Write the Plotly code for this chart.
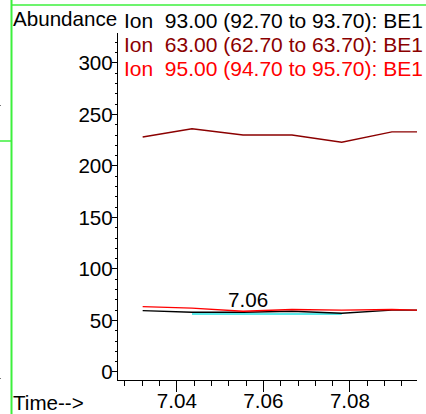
import plotly.graph_objects as go

# Retention times (min) of the scans
time_min = [7.0321, 7.0435, 7.0553, 7.0666, 7.0781, 7.0897, 7.0955]

# Extracted-ion abundances
ion_93 = [59.5, 58, 58, 59, 57, 60, 60]
ion_63 = [228, 236, 230, 230, 223, 233, 233]
ion_95 = [63.4, 62, 59, 60.7, 60, 60.7, 60]

# Integration baseline of the labelled peak
baseline_t = [7.0435, 7.0553, 7.0666, 7.0781]
baseline_y = [56.3, 56.3, 56.3, 56.3]

series_names = [
    "Ion  93.00 (92.70 to 93.70): BE1",
    "Ion  63.00 (62.70 to 63.70): BE1",
    "Ion  95.00 (94.70 to 95.70): BE1",
]
series_colors = ["#000000", "#8b0000", "#ff0000"]
series_values = [ion_93, ion_63, ion_95]

peak_rt_label = "7.06"
peak_label_t = 7.0565
peak_label_y = 70

x_range = [7.0264, 7.0955]
y_range = [-7.8, 329]

W, H = 426, 414
ML, MR, MT, MB = 118, 9, 33, 34
FONT = "Liberation Sans, Arial, sans-serif"
FS = 20.6
FS_HEAD = 21

fig = go.Figure()

fig.add_trace(go.Scatter(x=baseline_t, y=baseline_y, mode="lines",
                         line=dict(color="#22e0e0", width=1.6),
                         showlegend=False, hoverinfo="skip"))

# draw order: dark red first, then black and red on top
for idx in [1, 0, 2]:
    fig.add_trace(go.Scatter(x=time_min, y=series_values[idx], mode="lines",
                             name=series_names[idx],
                             line=dict(color=series_colors[idx], width=1.4),
                             showlegend=False))

pw = W - ML - MR
ph = H - MT - MB


def px_x(p):
    return (p - ML) / pw


def px_y(p):
    return (H - MB - p) / ph


annotations = []
# header lines naming each extracted ion
header_y = [20, 44, 68]
for name, color, yy in zip(series_names, series_colors, header_y):
    annotations.append(dict(xref="paper", yref="paper", x=px_x(122), y=px_y(yy),
                            xanchor="left", yanchor="middle", showarrow=False,
                            text=name, font=dict(family=FONT, size=FS_HEAD, color=color)))

annotations.append(dict(xref="paper", yref="paper", x=px_x(11), y=px_y(19),
                        xanchor="left", yanchor="middle", showarrow=False,
                        text="Abundance", font=dict(family=FONT, size=FS, color="black")))
annotations.append(dict(xref="paper", yref="paper", x=px_x(11), y=px_y(402),
                        xanchor="left", yanchor="middle", showarrow=False,
                        text="Time-->", font=dict(family=FONT, size=FS, color="black")))
annotations.append(dict(x=peak_label_t, y=peak_label_y, xanchor="center", yanchor="middle",
                        showarrow=False, text=peak_rt_label,
                        font=dict(family=FONT, size=FS, color="black")))

green = "#3cf03c"
shapes = [
    dict(type="line", xref="paper", yref="paper", x0=px_x(11.5), x1=px_x(11.5),
         y0=px_y(0), y1=px_y(414), line=dict(color=green, width=2)),
    dict(type="line", xref="paper", yref="paper", x0=px_x(11), x1=px_x(426),
         y0=px_y(5), y1=px_y(5), line=dict(color=green, width=1.5)),
    dict(type="line", xref="paper", yref="paper", x0=px_x(0), x1=px_x(11),
         y0=px_y(141), y1=px_y(141), line=dict(color=green, width=1.5)),
    dict(type="rect", xref="paper", yref="paper", x0=px_x(0), x1=px_x(1),
         y0=px_y(105), y1=px_y(106), line=dict(width=0), fillcolor="#777"),
    dict(type="rect", xref="paper", yref="paper", x0=px_x(0), x1=px_x(1),
         y0=px_y(378), y1=px_y(379), line=dict(width=0), fillcolor="#777"),
]

fig.update_layout(
    width=W, height=H,
    margin=dict(l=ML, r=MR, t=MT, b=MB, pad=0, autoexpand=False),
    paper_bgcolor="white", plot_bgcolor="white",
    font=dict(family=FONT, size=FS, color="black"),
    annotations=annotations, shapes=shapes,
    xaxis=dict(range=x_range, tick0=7.0, dtick=0.02, tickformat=".2f",
               automargin=False,
               showgrid=False, zeroline=False, showline=True, linecolor="black",
               linewidth=1.2, ticks="outside", ticklen=11, tickwidth=1.2,
               tickcolor="black", tickfont=dict(family=FONT, size=FS),
               ticklabelstandoff=-9,
               minor=dict(dtick=0.004, ticks="outside", ticklen=5, tickwidth=1,
                          tickcolor="black", showgrid=False)),
    yaxis=dict(range=y_range, tick0=0, dtick=50, showgrid=False, zeroline=False,
               automargin=False,
               showline=True, linecolor="black", linewidth=1.2, ticks="outside",
               ticklen=5, tickwidth=1.2, tickcolor="black",
               ticklabelstandoff=-5,
               tickfont=dict(family=FONT, size=FS),
               minor=dict(dtick=10, ticks="outside", ticklen=2, tickwidth=1,
                          tickcolor="black", showgrid=False)),
)

fig.write_html("out.html")
